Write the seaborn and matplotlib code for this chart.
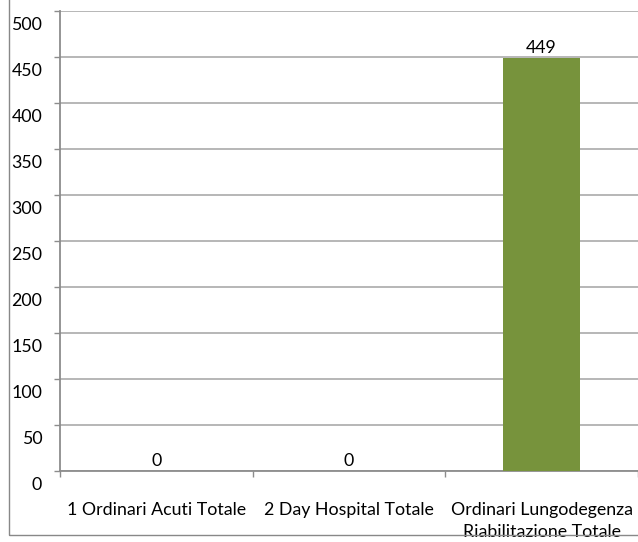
import matplotlib
matplotlib.use("Agg")
import matplotlib.pyplot as plt
import matplotlib.transforms as mtransforms
from matplotlib.patches import Rectangle
import seaborn as sns
import pandas as pd

categories = ["1 Ordinari Acuti Totale", "2 Day Hospital Totale",
              "Ordinari Lungodegenza\nRiabilitazione Totale"]
values = [0, 0, 449]
y_ticks = [0, 50, 100, 150, 200, 250, 300, 350, 400, 450, 500]

sns.set_theme(style="white")
plt.rcParams['font.family'] = ['Lato', 'DejaVu Sans']

W, H = 638, 542
dpi = 100
fig = plt.figure(figsize=(W / dpi, H / dpi), dpi=dpi)
fig.patch.set_facecolor("white")

left_px, right_px, top_px, bottom_px = 60, 638, 11, 471
ax = fig.add_axes([left_px / W, 1 - bottom_px / H,
                   (right_px - left_px) / W, (bottom_px - top_px) / H])

df = pd.DataFrame({"cat": categories, "val": values})
sns.barplot(data=df, x="cat", y="val", color="#77933C", saturation=1,
            width=0.40, ax=ax, zorder=3, linewidth=0)

ax.set_xlim(-0.5, 2.5)
ax.set_ylim(0, 500)
ax.set_yticks(y_ticks)
ax.set_xlabel("")
ax.set_ylabel("")

grid_c = "#AAAAAA"
axis_c = "#8C8C8C"
ax.yaxis.grid(True, color=grid_c, lw=1.2, zorder=0)
ax.xaxis.grid(False)
ax.set_axisbelow(True)
for s in ["top", "right"]:
    ax.spines[s].set_visible(False)
for s in ["left", "bottom"]:
    ax.spines[s].set_color(axis_c)
    ax.spines[s].set_linewidth(1.3)

fs = 12.8
# y ticks
ax.tick_params(axis="y", which="major", left=True, length=4.3, width=1.0,
               color=axis_c, pad=8.5, labelsize=fs, labelcolor="black")
offset = mtransforms.ScaledTranslation(0, -12 / dpi, fig.dpi_scale_trans)
for lbl in ax.get_yticklabels():
    lbl.set_transform(lbl.get_transform() + offset)

# x ticks: labels at centers, tick marks at boundaries
ax.set_xticks([0, 1, 2])
ax.set_xticklabels(categories)
ax.set_xticks([-0.5, 0.5, 1.5, 2.5], minor=True)
ax.tick_params(axis="x", which="major", bottom=True, length=0, pad=22,
               labelsize=fs, labelcolor="black")
ax.tick_params(axis="x", which="minor", bottom=True, length=4.3, width=1.0,
               color=axis_c)
for lbl in ax.get_xticklabels():
    lbl.set_linespacing(1.5)
    lbl.set_verticalalignment("top")

for cont in ax.containers:
    ax.bar_label(cont, labels=[f"{v:g}" for v in values], padding=1.5,
                 fontsize=fs, color="black")

border = Rectangle((8.5 / W, 7 / H), 2, 2, transform=fig.transFigure,
                   fill=False, edgecolor="#888888", lw=1.0, zorder=10,
                   clip_on=False)
fig.patches.append(border)

fig.savefig("out.png", dpi=dpi)
